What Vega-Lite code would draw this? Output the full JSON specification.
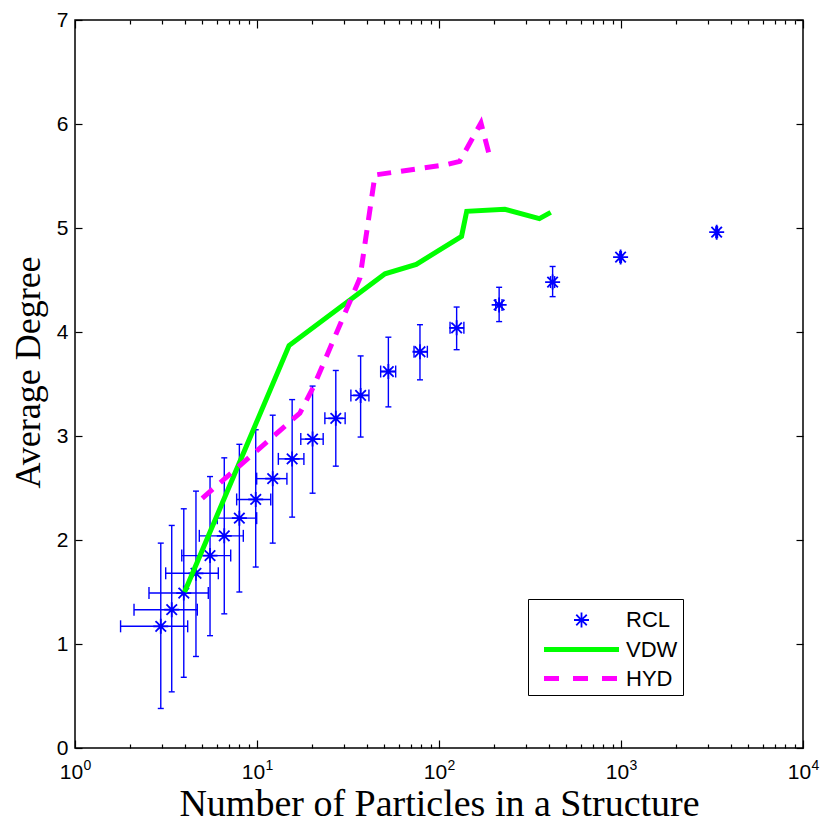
{
  "$schema": "https://vega.github.io/schema/vega-lite/v6.json",
  "width": 728,
  "height": 728,
  "autosize": "none",
  "padding": {"left": 75, "top": 20, "right": 22, "bottom": 78},
  "background": "white",
  "config": {
    "view": {"stroke": "black", "strokeWidth": 1.5},
    "axis": {
      "grid": false,
      "domain": false,
      "labelFont": "Liberation Sans",
      "labelFontSize": 21,
      "labelColor": "black",
      "titleFont": "Liberation Serif",
      "titleFontSize": 38,
      "titleFontWeight": "normal",
      "titleColor": "black",
      "tickColor": "black",
      "tickWidth": 1.2
    }
  },
  "datasets": {
    "rcl": [
      {"series": "RCL", "x": 2.96, "y": 1.17, "xlo": 1.78, "xhi": 4.16, "ylo": 0.38, "yhi": 1.97},
      {"series": "RCL", "x": 3.40, "y": 1.33, "xlo": 2.11, "xhi": 4.70, "ylo": 0.54, "yhi": 2.14},
      {"series": "RCL", "x": 3.96, "y": 1.49, "xlo": 2.55, "xhi": 5.40, "ylo": 0.68, "yhi": 2.30},
      {"series": "RCL", "x": 4.62, "y": 1.68, "xlo": 3.15, "xhi": 6.13, "ylo": 0.88, "yhi": 2.47},
      {"series": "RCL", "x": 5.52, "y": 1.85, "xlo": 3.86, "xhi": 7.17, "ylo": 1.08, "yhi": 2.61},
      {"series": "RCL", "x": 6.61, "y": 2.04, "xlo": 4.82, "xhi": 8.41, "ylo": 1.29, "yhi": 2.79},
      {"series": "RCL", "x": 8.0, "y": 2.21, "xlo": 6.05, "xhi": 9.96, "ylo": 1.50, "yhi": 2.92},
      {"series": "RCL", "x": 9.84, "y": 2.39, "xlo": 7.73, "xhi": 11.9, "ylo": 1.74, "yhi": 3.06},
      {"series": "RCL", "x": 12.2, "y": 2.59, "xlo": 9.96, "xhi": 14.6, "ylo": 1.97, "yhi": 3.20},
      {"series": "RCL", "x": 15.6, "y": 2.78, "xlo": 13.1, "xhi": 18.1, "ylo": 2.22, "yhi": 3.35},
      {"series": "RCL", "x": 20.2, "y": 2.97, "xlo": 17.4, "xhi": 23.1, "ylo": 2.45, "yhi": 3.48},
      {"series": "RCL", "x": 27.1, "y": 3.17, "xlo": 23.6, "xhi": 30.5, "ylo": 2.71, "yhi": 3.63},
      {"series": "RCL", "x": 37.1, "y": 3.39, "xlo": 32.8, "xhi": 41.2, "ylo": 2.99, "yhi": 3.77},
      {"series": "RCL", "x": 52.7, "y": 3.62, "xlo": 47.8, "xhi": 57.8, "ylo": 3.28, "yhi": 3.95},
      {"series": "RCL", "x": 78.6, "y": 3.81, "xlo": 72.9, "xhi": 86.3, "ylo": 3.54, "yhi": 4.07},
      {"series": "RCL", "x": 125, "y": 4.04, "xlo": 115, "xhi": 137, "ylo": 3.83, "yhi": 4.24},
      {"series": "RCL", "x": 214, "y": 4.26, "xlo": 205, "xhi": 222, "ylo": 4.10, "yhi": 4.43},
      {"series": "RCL", "x": 421, "y": 4.48, "xlo": 410, "xhi": 432, "ylo": 4.34, "yhi": 4.63},
      {"series": "RCL", "x": 995, "y": 4.72, "xlo": 985, "xhi": 1005, "ylo": 4.70, "yhi": 4.74},
      {"series": "RCL", "x": 3355, "y": 4.96, "xlo": 3320, "xhi": 3390, "ylo": 4.94, "yhi": 4.98}
    ],
    "lines": [
      {"series": "VDW", "x": 4.0, "y": 1.50},
      {"series": "VDW", "x": 15.0, "y": 3.87},
      {"series": "VDW", "x": 50.5, "y": 4.56},
      {"series": "VDW", "x": 75, "y": 4.65},
      {"series": "VDW", "x": 133, "y": 4.92},
      {"series": "VDW", "x": 142, "y": 5.16},
      {"series": "VDW", "x": 230, "y": 5.18},
      {"series": "VDW", "x": 356, "y": 5.09},
      {"series": "VDW", "x": 411, "y": 5.15},
      {"series": "HYD", "x": 5.0, "y": 2.40},
      {"series": "HYD", "x": 17.2, "y": 3.22},
      {"series": "HYD", "x": 20.4, "y": 3.47},
      {"series": "HYD", "x": 36.8, "y": 4.52},
      {"series": "HYD", "x": 44.5, "y": 5.51},
      {"series": "HYD", "x": 110, "y": 5.61},
      {"series": "HYD", "x": 130, "y": 5.64},
      {"series": "HYD", "x": 170, "y": 6.01},
      {"series": "HYD", "x": 191, "y": 5.67}
    ]
  },
  "layer": [
    {
      "data": {"name": "rcl"},
      "mark": {"type": "rule", "color": "#0000ff", "strokeWidth": 1.4},
      "encoding": {
        "x": {"field": "x", "type": "quantitative",
          "scale": {"type": "log", "domain": [1, 10000], "nice": false},
          "axis": {"orient": "bottom", "values": [1, 10, 100, 1000, 10000], "ticks": false,
            "labelExpr": "'10'", "labelFontSize": 21, "labelOffset": -4,
            "labelPadding": 13, "labelFlush": false, "labelOverlap": false,
            "title": "Number of Particles in a Structure", "titlePadding": 3}},
        "y": {"field": "ylo", "type": "quantitative",
          "scale": {"domain": [0, 7], "nice": false, "zero": false},
          "axis": {"orient": "left", "values": [0, 1, 2, 3, 4, 5, 6, 7], "ticks": false,
            "labelPadding": 7, "labelFlush": false, "labelOverlap": false,
            "title": "Average Degree", "titleFontSize": 36, "titlePadding": 9, "titleY": 352}},
        "y2": {"field": "yhi"}
      }
    },
    {
      "data": {"name": "rcl"},
      "mark": {"type": "rule", "color": "#0000ff", "strokeWidth": 1.4},
      "encoding": {
        "x": {"field": "xlo", "type": "quantitative",
          "scale": {"type": "log", "domain": [1, 10000], "nice": false},
          "axis": {"orient": "bottom", "values": [1, 10, 100, 1000, 10000], "labels": false, "tickSize": -8, "title": null}},
        "x2": {"field": "xhi"},
        "y": {"field": "y", "type": "quantitative",
          "scale": {"domain": [0, 7], "nice": false, "zero": false},
          "axis": {"orient": "left", "values": [0, 1, 2, 3, 4, 5, 6, 7], "labels": false, "tickSize": -7, "title": null}}
      }
    },
    {
      "data": {"name": "rcl"},
      "mark": {"type": "tick", "orient": "horizontal", "size": 6, "thickness": 1.4, "color": "#0000ff", "opacity": 1},
      "encoding": {
        "x": {"field": "x", "type": "quantitative",
          "scale": {"type": "log", "domain": [1, 10000], "nice": false},
          "axis": {"orient": "bottom", "values": [2, 3, 4, 5, 6, 7, 8, 9, 20, 30, 40, 50, 60, 70, 80, 90, 200, 300, 400, 500, 600, 700, 800, 900, 2000, 3000, 4000, 5000, 6000, 7000, 8000, 9000], "labels": false, "tickSize": -4, "title": null}},
        "y": {"field": "ylo", "type": "quantitative",
          "scale": {"domain": [0, 7], "nice": false, "zero": false},
          "axis": {"orient": "right", "values": [0, 1, 2, 3, 4, 5, 6, 7], "labels": false, "tickSize": -7, "title": null}}
      }
    },
    {
      "data": {"name": "rcl"},
      "mark": {"type": "tick", "orient": "horizontal", "size": 6, "thickness": 1.4, "color": "#0000ff", "opacity": 1},
      "encoding": {
        "x": {"field": "x", "type": "quantitative",
          "scale": {"type": "log", "domain": [1, 10000], "nice": false},
          "axis": {"orient": "top", "values": [1, 10, 100, 1000, 10000], "labels": false, "tickSize": -8, "title": null}},
        "y": {"field": "yhi", "type": "quantitative",
          "scale": {"domain": [0, 7], "nice": false, "zero": false}, "axis": null}
      }
    },
    {
      "data": {"name": "rcl"},
      "mark": {"type": "tick", "orient": "vertical", "size": 12, "thickness": 1.4, "color": "#0000ff", "opacity": 1},
      "encoding": {
        "x": {"field": "xlo", "type": "quantitative",
          "scale": {"type": "log", "domain": [1, 10000], "nice": false},
          "axis": {"orient": "top", "values": [2, 3, 4, 5, 6, 7, 8, 9, 20, 30, 40, 50, 60, 70, 80, 90, 200, 300, 400, 500, 600, 700, 800, 900, 2000, 3000, 4000, 5000, 6000, 7000, 8000, 9000], "labels": false, "tickSize": -4, "title": null}},
        "y": {"field": "y", "type": "quantitative",
          "scale": {"domain": [0, 7], "nice": false, "zero": false}, "axis": null}
      }
    },
    {
      "data": {"name": "rcl"},
      "mark": {"type": "tick", "orient": "vertical", "size": 12, "thickness": 1.4, "color": "#0000ff", "opacity": 1},
      "encoding": {
        "x": {"field": "xhi", "type": "quantitative",
          "scale": {"type": "log", "domain": [1, 10000], "nice": false},
          "axis": {"orient": "bottom", "values": [1, 10, 100, 1000, 10000], "ticks": false,
            "labelExpr": "'' + round(log(datum.value)/LN10)", "labelFontSize": 14, "labelOffset": 12,
            "labelPadding": 10, "labelFlush": false, "labelOverlap": false, "title": null}},
        "y": {"field": "y", "type": "quantitative",
          "scale": {"domain": [0, 7], "nice": false, "zero": false}, "axis": null}
      }
    },
    {
      "data": {"name": "rcl"},
      "mark": {"type": "point", "filled": false, "opacity": 1, "size": 900},
      "encoding": {
        "x": {"field": "x", "type": "quantitative",
          "scale": {"type": "log", "domain": [1, 10000], "nice": false}, "axis": null},
        "y": {"field": "y", "type": "quantitative",
          "scale": {"domain": [0, 7], "nice": false, "zero": false}, "axis": null},
        "color": {"field": "series", "type": "nominal",
          "scale": {"domain": ["RCL", "VDW", "HYD"], "range": ["#0000ff", "#00ff00", "#ff00ff"]},
          "legend": {
            "title": null, "orient": "none", "legendX": 453, "legendY": 579,
            "padding": 5, "rowPadding": 0, "labelFont": "Liberation Sans", "labelFontSize": 22,
            "labelColor": "black", "labelOffset": 27, "symbolOffset": 31, "symbolSize": 900,
            "labelExpr": "datum.label + '\u00a0\u00a0\u00a0\u00a0\u00a0'",
            "strokeColor": "black", "fillColor": "white"
          }},
        "shape": {"field": "series", "type": "nominal",
          "scale": {"domain": ["RCL", "VDW", "HYD"], "range": ["M-0.5,0L0.5,0M0,-0.5L0,0.5M-0.35,-0.35L0.35,0.35M-0.35,0.35L0.35,-0.35", "M-2.5,0L2.5,0", "M-2.5,0L2.5,0"]},
          "legend": {"title": null}},
        "strokeWidth": {"field": "series", "type": "nominal",
          "scale": {"type": "ordinal", "domain": ["RCL", "VDW", "HYD"], "range": [1.8, 5, 5]},
          "legend": {"title": null}},
        "strokeDash": {"field": "series", "type": "nominal",
          "scale": {"domain": ["RCL", "VDW", "HYD"], "range": [[1, 0], [1, 0], [15, 14]]},
          "legend": {"title": null}}
      }
    },
    {
      "data": {"name": "lines"},
      "transform": [{"filter": "datum.series === 'VDW'"}],
      "mark": {"type": "line", "strokeWidth": 5, "strokeJoin": "miter"},
      "encoding": {
        "x": {"field": "x", "type": "quantitative",
          "scale": {"type": "log", "domain": [1, 10000], "nice": false}, "axis": null},
        "y": {"field": "y", "type": "quantitative",
          "scale": {"domain": [0, 7], "nice": false, "zero": false}, "axis": null},
        "color": {"field": "series", "type": "nominal",
          "scale": {"domain": ["RCL", "VDW", "HYD"], "range": ["#0000ff", "#00ff00", "#ff00ff"]}, "legend": null}
      }
    },
    {
      "data": {"name": "lines"},
      "transform": [{"filter": "datum.series === 'HYD'"}],
      "mark": {"type": "line", "strokeWidth": 5, "strokeDash": [14, 10]},
      "encoding": {
        "x": {"field": "x", "type": "quantitative",
          "scale": {"type": "log", "domain": [1, 10000], "nice": false}, "axis": null},
        "y": {"field": "y", "type": "quantitative",
          "scale": {"domain": [0, 7], "nice": false, "zero": false}, "axis": null},
        "color": {"field": "series", "type": "nominal",
          "scale": {"domain": ["RCL", "VDW", "HYD"], "range": ["#0000ff", "#00ff00", "#ff00ff"]}, "legend": null}
      }
    }
  ],
  "resolve": {"axis": {"x": "independent", "y": "independent"}}
}
